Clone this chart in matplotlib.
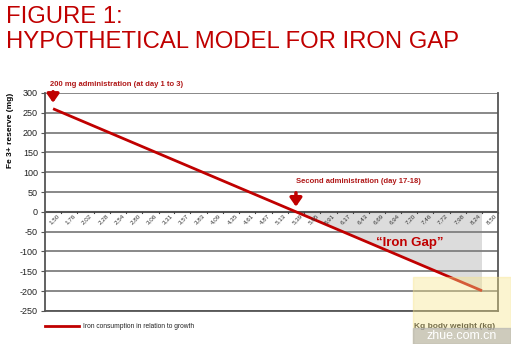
import numpy as np
import matplotlib
matplotlib.use("Agg")
import matplotlib.pyplot as plt

# ----------------------------------------------------------------------
# data
# ----------------------------------------------------------------------
weight_labels = ["1,50", "1,76", "2,02", "2,28", "2,54", "2,80", "3,06", "3,31",
                 "3,57", "3,83", "4,09", "4,35", "4,61", "4,87", "5,13", "5,39",
                 "5,65", "5,91", "6,17", "6,43", "6,69", "6,94", "7,20", "7,46",
                 "7,72", "7,98", "8,24", "8,50"]
weight_kg = [float(s.replace(",", ".")) for s in weight_labels]

line_kg = [1.50, 8.37]          # iron consumption line, start / end
line_fe = [260, -199]           # Fe 3+ reserve (mg)

y_ticks = [300, 250, 200, 150, 100, 50, 0, -50, -100, -150, -200, -250]

RED = "#c00000"
DARK_RED = "#b01818"
GRID = "#7f7f7f"

plt.rcParams["font.family"] = ["Liberation Sans", "DejaVu Sans"]

fig = plt.figure(figsize=(5.11, 3.44), dpi=100)
ax = fig.add_axes([0.088, 0.096, 0.887, 0.634])

# evenly spaced category axis (7/27 kg per step)
step = (weight_kg[-1] - weight_kg[0]) / (len(weight_kg) - 1)
ax.set_xlim(weight_kg[0] - step / 2, weight_kg[-1] + step / 2)
ax.set_ylim(-250, 300)

for v in y_ticks:
    ax.axhline(v, color=GRID, lw=1.3, zorder=1)

# "Iron Gap" shaded triangle between zero line and consumption line
slope = (line_fe[1] - line_fe[0]) / (line_kg[1] - line_kg[0])
x0 = line_kg[0] - line_fe[0] / slope
ax.fill([x0, line_kg[1], line_kg[1]], [0, 0, line_fe[1]],
        color="#dcdcdc", zorder=0.5, lw=0)

ax.plot(line_kg, line_fe, color=RED, lw=2, zorder=3, solid_capstyle="butt")

# x axis at zero with small tick marks and rotated labels
ax.axhline(0, color="#555555", lw=1.5, zorder=2)
for i, k in enumerate(weight_kg):
    ax.plot([k + step / 2, k + step / 2], [0, -4], color="#444444", lw=0.8,
            zorder=2, clip_on=False)
    ax.text(k + 0.06, -3, weight_labels[i], rotation=45, ha="right", va="top",
            fontsize=4.5, color="#333333", rotation_mode="anchor", zorder=4)

ax.set_xticks([])
ax.set_yticks(y_ticks)
ax.set_yticklabels([str(v) for v in y_ticks], fontsize=6.5, color="#222222")
ax.tick_params(axis="y", length=3, width=0.8, color="#555555", pad=2)
for side in ["left", "right", "bottom"]:
    ax.spines[side].set_color("#555555")
    ax.spines[side].set_linewidth(1.3)
ax.spines["top"].set_visible(False)

# annotations
fig.text(0.098, 0.745, "200 mg administration (at day 1 to 3)", fontsize=5.5,
         fontweight="bold", color=DARK_RED, va="bottom")
ax.annotate("", xy=(1.50, 268), xytext=(1.50, 310),
            arrowprops=dict(arrowstyle="-|>,head_width=0.35,head_length=0.5",
                            color=RED, lw=2.5), annotation_clip=False)
ax.text(5.39, 68, "Second administration (day 17-18)", fontsize=5.5,
        fontweight="bold", color=DARK_RED, va="bottom", ha="left")
ax.annotate("", xy=(5.39, 6), xytext=(5.39, 55),
            arrowprops=dict(arrowstyle="-|>,head_width=0.35,head_length=0.5",
                            color=RED, lw=2.5))
ax.text(7.22, -78, "\u201cIron Gap\u201d", fontsize=9.5, fontweight="bold",
        color=RED, ha="center", va="center", zorder=4)

ax.set_ylabel("Fe 3+ reserve (mg)", fontsize=6, fontweight="bold")
ax.yaxis.set_label_coords(-0.068, 0.83)

# legend line and x-axis title below the chart
fig.add_artist(plt.Line2D([45 / 511, 79 / 511], [1 - 326 / 344] * 2,
                          color=RED, lw=2))
fig.text(83 / 511, 1 - 326 / 344, "Iron consumption in relation to growth",
         fontsize=4.8, va="center", color="#222222")
fig.text(455 / 511, 1 - 326 / 344, "Kg body weight (kg)", fontsize=6,
         fontweight="bold", ha="center", va="center", color="#222222")

# title, two lines placed on their baselines
fig.text(6 / 511, 1 - 23 / 344, "FIGURE 1:", fontsize=17.2, color=RED,
         va="baseline", ha="left")
fig.text(6 / 511, 1 - 48 / 344, "HYPOTHETICAL MODEL FOR IRON GAP",
         fontsize=17.2, color=RED, va="baseline", ha="left")

# site watermark box, lower right
fig.patches.append(plt.Rectangle((413 / 511, 0), 98 / 511, 67 / 344,
                                 transform=fig.transFigure, color="#f6e48a",
                                 alpha=0.4, zorder=5))
fig.patches.append(plt.Rectangle((413 / 511, 0), 98 / 511, 16 / 344,
                                 transform=fig.transFigure, color="#b0b0b0",
                                 alpha=0.6, zorder=5))
fig.text(462 / 511, 1 - 336 / 344, "zhue.com.cn", fontsize=9, color="white",
         ha="center", va="center", zorder=6)

fig.savefig("out.png", dpi=100)
